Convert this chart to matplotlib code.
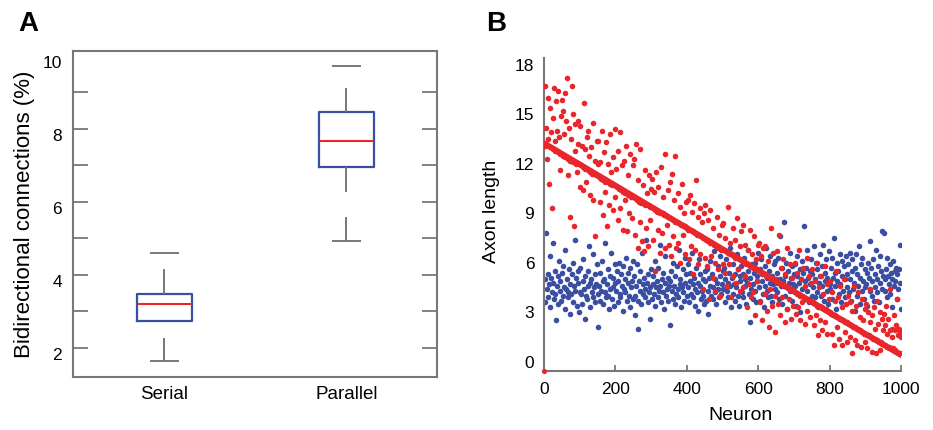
import numpy as np
import matplotlib
matplotlib.use("agg")
import matplotlib.pyplot as plt
import matplotlib.transforms as mtransforms

plt.rcParams['font.family'] = ['Liberation Sans', 'DejaVu Sans']

# ---- panel A: boxes ----
groups = ["Serial", "Parallel"]
q1 = [2.72, 6.96]
med = [3.18, 7.65]
q3 = [3.48, 8.46]
cap_lo = [1.62, 4.92]
cap_hi = [4.60, 9.72]
# whiskers were dashed in the original, these are the visible dash pieces
whisk_grp = [1, 1, 2, 2, 2]
whisk_lo = [3.48, 1.62, 8.46, 6.26, 4.92]
whisk_hi = [4.15, 2.26, 9.12, 6.96, 5.57]

# ---- panel B: axon length per neuron (every 2nd neuron) ----
neuron = np.arange(2, 1001, 2)
blue_y = [
    5.0, 3.6, 7.8, 4.4, 5.3, 3.9, 4.7, 6.4, 3.3, 5.1, 4.2, 7.2, 4.8, 3.8, 5.5, 4.1, 2.5, 4.6, 5.2, 3.5, 6.1, 4.3, 4.9, 3.7, 5.4,
    4.0, 5.8, 4.5, 3.2, 6.8, 4.4, 5.0, 3.9, 4.2, 5.6, 2.9, 4.7, 4.1, 5.3, 6.0, 3.6, 4.6, 7.4, 4.3, 5.1, 3.4, 4.8, 5.5, 3.0, 4.2,
    5.7, 4.1, 3.5, 4.9, 6.2, 4.4, 2.6, 5.2, 4.0, 3.8, 5.5, 4.6, 7.0, 3.3, 4.8, 5.0, 4.2, 6.5, 3.9, 4.5, 5.3, 3.6, 4.7, 5.9, 4.1,
    2.1, 4.6, 5.4, 3.7, 4.3, 6.1, 4.9, 3.5, 5.0, 4.2, 7.2, 3.9, 4.7, 5.6, 4.0, 3.2, 5.2, 4.4, 6.6, 3.8, 4.5, 5.1, 3.4, 4.8, 5.9,
    4.3, 5.5, 3.6, 4.9, 6.0, 4.1, 3.9, 5.3, 4.6, 5.8, 3.1, 4.4, 5.0, 4.2, 6.3, 3.7, 4.8, 5.4, 4.0, 3.3, 5.7, 4.5, 4.9, 3.8, 6.1,
    5.2, 4.0, 2.8, 4.6, 5.9, 3.7, 2.0, 4.9, 5.5, 4.3, 3.5, 6.6, 4.1, 4.7, 5.1, 3.9, 4.4, 7.4, 4.8, 3.6, 5.3, 4.2, 2.6, 4.5, 5.6,
    3.8, 4.7, 5.2, 4.1, 6.1, 3.4, 4.5, 4.9, 5.7, 3.9, 4.3, 7.1, 4.6, 3.6, 5.0, 4.2, 5.4, 3.2, 4.8, 6.4, 4.0, 4.4, 5.1, 3.7, 4.6,
    2.2, 4.9, 5.5, 4.3, 3.8, 6.0, 4.6, 5.2, 3.5, 4.1, 5.8, 4.4, 3.9, 6.8, 4.7, 5.0, 3.3, 4.5, 5.6, 4.2, 3.7, 6.3, 4.8, 5.3, 4.0,
    4.5, 5.9, 3.6, 4.9, 5.4, 4.1, 6.6, 3.9, 4.7, 5.1, 3.4, 4.4, 5.7, 4.2, 3.1, 4.8, 6.2, 4.6, 5.3, 3.8, 4.3, 5.0, 4.0, 3.5, 5.5,
    4.9, 3.7, 5.6, 4.3, 2.9, 5.1, 4.6, 6.1, 4.0, 5.3, 3.8, 4.5, 6.7, 4.2, 5.0, 3.5, 4.8, 5.8, 4.4, 3.9, 5.2, 6.4, 4.1, 4.7, 5.5,
    4.4, 5.7, 3.6, 5.0, 6.2, 4.3, 4.8, 3.9, 5.4, 6.9, 4.6, 3.3, 5.1, 4.1, 5.9, 4.7, 3.7, 5.3, 4.5, 6.5, 4.0, 5.6, 3.4, 4.9, 5.2,
    5.8, 4.2, 3.9, 5.3, 6.3, 4.6, 5.0, 3.5, 4.8, 5.5, 6.8, 4.1, 2.4, 5.1, 4.4, 5.9, 3.8, 4.7, 5.4, 6.0, 4.3, 3.6, 5.2, 4.9, 6.6,
    4.5, 5.6, 3.7, 6.2, 4.9, 5.3, 4.1, 3.3, 5.8, 4.6, 6.9, 4.3, 5.1, 3.9, 5.5, 4.8, 6.4, 4.0, 5.2, 3.6, 4.7, 5.9, 4.4, 6.1, 5.0,
    5.4, 4.2, 6.3, 3.8, 5.0, 7.6, 4.6, 5.7, 3.5, 4.9, 8.5, 5.2, 4.0, 6.0, 4.5, 3.2, 5.5, 4.8, 6.6, 4.3, 5.1, 3.7, 5.8, 4.7, 5.3,
    4.6, 5.9, 3.4, 5.2, 6.4, 4.1, 4.8, 5.6, 3.0, 5.0, 6.1, 4.4, 5.4, 8.2, 3.8, 4.9, 5.7, 4.3, 6.8, 5.1, 3.6, 4.7, 5.5, 6.2, 4.0,
    5.3, 4.5, 7.0, 3.9, 5.0, 6.0, 4.2, 5.6, 3.3, 4.8, 6.5, 5.2, 4.0, 5.8, 4.6, 7.1, 3.7, 5.4, 4.9, 6.2, 4.3, 5.1, 3.5, 6.7, 4.7,
    4.4, 5.7, 6.3, 3.8, 5.1, 7.5, 4.6, 5.4, 3.2, 6.0, 4.9, 5.5, 4.1, 6.5, 4.7, 3.6, 5.2, 6.1, 4.3, 5.8, 3.9, 5.0, 6.4, 4.5, 5.3,
    5.9, 4.2, 6.6, 5.0, 3.7, 5.5, 6.2, 4.4, 4.8, 3.1, 5.7, 6.5, 4.0, 5.3, 4.6, 7.0, 3.5, 5.1, 5.9, 4.3, 6.3, 4.9, 3.8, 5.6, 4.5,
    4.7, 5.4, 3.4, 6.0, 5.1, 4.3, 7.3, 5.7, 4.0, 4.9, 6.2, 3.7, 5.3, 4.5, 6.8, 5.0, 4.2, 5.8, 3.6, 4.8, 6.4, 5.5, 7.9, 4.4, 5.2,
    7.8, 5.0, 4.3, 5.6, 6.3, 3.9, 5.2, 4.7, 5.9, 4.1, 5.4, 3.3, 5.0, 6.1, 4.6, 5.5, 4.9, 5.7, 3.8, 5.3, 4.4, 5.6, 7.1, 4.8, 3.2,
]
red_y = [
    16.7, 13.1, 14.2, 12.3, 16.0, 13.5, 10.8, 13.0, 15.4, 13.9, 9.3, 12.9, 14.8, 16.6, 13.4, 12.8, 15.8, 14.0, 12.7, 16.4, 13.6, 11.6, 12.6, 14.9, 15.9,
    15.2, 12.5, 13.8, 16.3, 12.4, 14.6, 17.2, 12.3, 11.3, 14.2, 12.2, 8.8, 13.5, 16.7, 12.1, 15.0, 8.2, 12.8, 14.4, 12.0, 11.5, 13.2, 14.6, 12.0, 10.6,
    14.3, 11.9, 13.1, 10.4, 11.8, 15.7, 12.9, 11.7, 10.9, 13.6, 11.6, 14.0, 12.5, 11.5, 10.1, 13.0, 11.4, 9.8, 14.5, 11.4, 12.2, 7.6, 11.3, 13.4, 12.0,
    13.4, 11.2, 9.7, 12.1, 11.1, 14.0, 8.9, 11.0, 12.7, 10.3, 10.9, 13.3, 8.2, 10.9, 12.0, 9.5, 10.8, 13.8, 11.5, 10.7, 9.2, 12.4, 10.7, 14.1, 10.0,
    11.7, 10.6, 8.6, 12.8, 10.5, 9.3, 13.9, 10.4, 11.9, 8.0, 10.3, 12.2, 9.8, 10.2, 13.1, 7.9, 10.1, 11.3, 9.0, 10.1, 12.6, 10.0, 8.7, 11.9, 10.0,
    12.3, 9.9, 7.7, 13.2, 9.8, 6.9, 11.0, 9.7, 8.5, 12.9, 9.6, 7.3, 10.7, 9.6, 6.7, 11.6, 9.5, 8.1, 10.2, 9.5, 7.0, 11.3, 9.4, 8.6, 10.5,
    11.1, 9.3, 7.4, 10.3, 9.2, 5.5, 11.5, 9.1, 8.0, 10.6, 9.1, 6.6, 9.0, 11.8, 7.8, 9.0, 10.0, 8.9, 6.9, 12.6, 8.9, 8.3, 10.4, 8.8, 7.1,
    10.9, 8.7, 6.4, 11.4, 8.6, 7.6, 9.8, 8.5, 12.5, 6.9, 8.5, 10.2, 7.2, 8.4, 9.4, 6.0, 8.3, 10.8, 7.7, 8.3, 9.0, 6.5, 8.2, 9.7, 8.1,
    9.8, 8.0, 6.2, 10.1, 8.0, 7.0, 9.1, 7.9, 5.3, 9.6, 7.8, 6.8, 11.0, 7.7, 8.8, 5.9, 7.7, 9.3, 6.5, 7.6, 8.5, 4.4, 7.5, 9.0, 6.3,
    9.5, 7.4, 5.8, 8.6, 7.3, 3.8, 7.2, 9.2, 6.4, 7.2, 5.1, 8.1, 7.1, 6.0, 4.3, 7.0, 8.8, 6.9, 5.6, 7.7, 6.9, 4.0, 6.8, 8.3, 5.9,
    8.4, 6.8, 5.4, 7.5, 6.7, 4.6, 9.4, 6.6, 5.9, 7.2, 6.5, 3.9, 6.5, 8.1, 5.2, 6.4, 7.4, 6.3, 4.8, 8.7, 6.3, 5.6, 6.2, 7.0, 4.3,
    7.9, 6.1, 4.5, 8.3, 6.0, 5.2, 7.1, 5.9, 3.3, 6.8, 5.9, 4.7, 8.0, 5.8, 3.9, 6.5, 5.7, 4.2, 7.6, 5.6, 2.8, 6.2, 5.6, 4.9, 7.1,
    7.2, 5.5, 3.6, 6.4, 5.4, 2.5, 6.9, 5.3, 4.1, 7.0, 5.2, 3.1, 5.2, 6.1, 2.1, 5.1, 4.4, 8.1, 5.0, 3.4, 6.6, 5.0, 4.0, 1.8, 4.9,
    6.7, 4.8, 3.5, 7.7, 4.8, 2.8, 5.7, 4.7, 3.9, 6.2, 4.6, 2.4, 5.3, 4.6, 3.2, 6.9, 4.5, 3.8, 4.4, 5.9, 2.6, 4.4, 5.1, 3.4, 4.3,
    6.0, 4.2, 2.9, 5.4, 4.1, 3.3, 6.8, 4.0, 2.5, 5.0, 4.0, 3.6, 5.7, 3.9, 2.3, 4.6, 3.8, 6.3, 3.1, 3.8, 5.2, 2.7, 3.7, 4.8, 3.6,
    5.6, 3.6, 2.2, 4.9, 3.5, 2.8, 6.0, 3.4, 1.6, 4.5, 3.4, 2.5, 5.2, 3.3, 1.9, 4.1, 3.2, 5.8, 2.4, 3.2, 4.7, 1.7, 3.1, 3.8, 3.0,
    4.9, 2.9, 1.7, 4.2, 2.8, 1.0, 3.7, 2.8, 5.5, 2.1, 2.7, 3.9, 1.4, 2.6, 4.6, 2.6, 1.0, 3.3, 2.5, 5.0, 1.8, 2.4, 3.5, 2.4, 1.2,
    4.0, 2.3, 1.5, 3.6, 2.2, 0.5, 3.1, 2.1, 4.6, 1.3, 2.1, 3.4, 1.0, 2.0, 4.2, 1.9, 2.7, 1.9, 0.9, 3.8, 1.8, 2.5, 1.7, 3.2, 1.2,
    3.5, 1.6, 0.8, 3.0, 1.6, 2.4, 4.4, 1.5, 0.6, 2.8, 1.4, 3.3, 1.4, 2.0, 0.5, 3.7, 1.3, 2.3, 1.2, 3.0, 0.7, 1.2, 2.6, 1.1, 1.9,
    2.9, 1.0, 2.2, 3.4, 0.9, 1.7, 2.6, 0.9, 1.9, 4.4, 0.8, 2.0, 1.5, 0.8, 2.8, 1.9, 0.7, 2.2, 3.8, 0.6, 1.6, 2.0, 0.5, 1.8, 1.5,
]
# dense band of red neurons lying on the trend
red_trend_x = [0, 1000]
red_trend_y = [13.25, 0.4]
# lone red point sitting at the corner
red_origin_x = [0]
red_origin_y = [-0.55]

GRAY = '#777777'
BLUE = '#3a4ea2'
RED = '#e8262b'

fig = plt.figure(figsize=(9.33, 4.3), dpi=100)

# ================= A =================
axA = fig.add_axes([0.0786, 0.124, 0.3901, 0.7574])
pos = [1, 2]
stats = []
for i in range(2):
    stats.append(dict(med=med[i], q1=q1[i], q3=q3[i],
                      whislo=cap_lo[i], whishi=cap_hi[i], fliers=[]))
axA.bxp(stats, positions=pos, widths=0.30, capwidths=0.147,
        showfliers=False,
        boxprops=dict(color=BLUE, linewidth=1.6),
        medianprops=dict(color=RED, linewidth=1.5),
        whiskerprops=dict(linestyle='none'),
        capprops=dict(color=GRAY, linewidth=1.4))
axA.vlines(whisk_grp, whisk_lo, whisk_hi, color=GRAY, linewidth=1.4)

axA.set_xlim(0.5, 2.5)
axA.set_ylim(1.2, 10.13)
axA.set_xticks(pos)
axA.set_xticklabels(groups, fontsize=13.5)
axA.set_yticks([2, 4, 6, 8, 10])
axA.set_yticks([3, 5, 7, 9], minor=True)
axA.set_yticklabels(['2', '4', '6', '8', '10'], fontsize=12.5)
axA.tick_params(axis='x', length=0, pad=7)
axA.tick_params(axis='y', which='both', direction='in', left=True, right=True,
                length=10.5, width=1.3, color=GRAY, pad=8)
axA.yaxis.get_major_ticks()[-1].tick1line.set_visible(False)
axA.yaxis.get_major_ticks()[-1].tick2line.set_visible(False)
off = mtransforms.ScaledTranslation(0, -6.5 / 100, fig.dpi_scale_trans)
for lab in axA.get_yticklabels():
    lab.set_transform(lab.get_transform() + off)
for sp in axA.spines.values():
    sp.set_color(GRAY)
    sp.set_linewidth(1.5)
axA.set_ylabel('Bidirectional connections (%)', fontsize=16)
axA.yaxis.set_label_coords(-0.104, 0.5)

# ================= B =================
axB = fig.add_axes([0.5831, 0.1379, 0.3826, 0.7265])
axB.scatter(neuron, blue_y, s=16, color=BLUE, linewidths=0, zorder=2)
axB.plot(red_trend_x, red_trend_y, color=RED, linewidth=4.2,
         solid_capstyle='round', zorder=3)
axB.scatter(neuron, red_y, s=16, color=RED, linewidths=0, zorder=3)
axB.scatter(red_origin_x, red_origin_y, s=14, color=RED, linewidths=0,
            zorder=4, clip_on=False)

axB.set_xlim(0, 1000)
axB.set_ylim(-0.55, 18.4)
axB.set_xticks([0, 200, 400, 600, 800, 1000])
axB.set_yticks([0, 3, 6, 9, 12, 15, 18])
axB.tick_params(axis='x', direction='in', length=4, width=1.3, color=GRAY,
                labelsize=12.5, pad=8)
axB.tick_params(axis='y', length=0, labelsize=12.5, pad=7)
for s in ['top', 'right']:
    axB.spines[s].set_visible(False)
for s in ['left', 'bottom']:
    axB.spines[s].set_color(GRAY)
    axB.spines[s].set_linewidth(1.5)
axB.set_xlabel('Neuron', fontsize=14)
axB.xaxis.set_label_coords(0.55, -0.115)
axB.set_ylabel('Axon length', fontsize=14)
axB.yaxis.set_label_coords(-0.122, 0.51)

fig.text(18 / 933, 1 - 30.7 / 430, 'A', fontsize=20, fontweight='bold')
fig.text(486 / 933, 1 - 30.7 / 430, 'B', fontsize=20, fontweight='bold')

fig.savefig('out.png', dpi=100)
